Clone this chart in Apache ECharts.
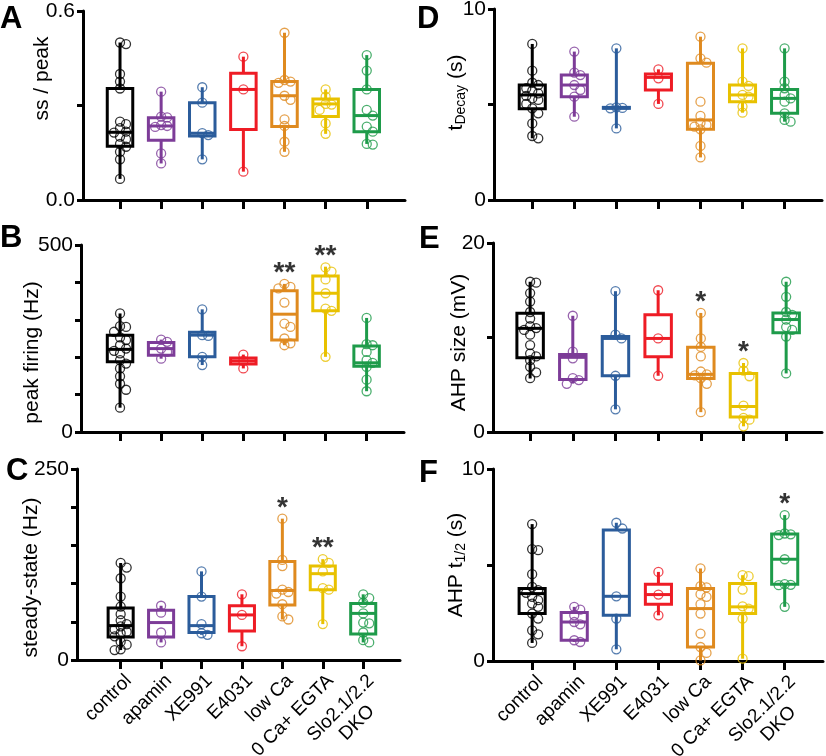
<!DOCTYPE html>
<html><head><meta charset="utf-8">
<script src="https://cdn.jsdelivr.net/npm/echarts@6/dist/echarts.min.js"></script>
<style>html,body{margin:0;padding:0;background:#fff}#c{width:826px;height:756px}</style>
</head><body><div id="c"></div>
<script>
const categories = ['control','apamin','XE991','E4031','low Ca','0 Ca+ EGTA','Slo2.1/2.2\nDKO    '];
const groupColors = ['#000000','#7D3C98','#2B5C9B','#EE1C25','#DF8A1F','#E8C100','#1E9B4A'];

// box stats per group: [min, q1, median, q3, max]
const A_box = [[0.067,0.171,0.215,0.354,0.50],[0.116,0.190,0.235,0.261,0.344],[0.129,0.203,0.212,0.309,0.358],[0.090,0.224,0.351,0.402,0.455],[0.153,0.233,0.331,0.376,0.531],[0.210,0.265,0.305,0.321,0.351],[0.178,0.217,0.268,0.351,0.460]];
const A_pts = [[0.50,0.495,0.40,0.376,0.354,0.249,0.241,0.228,0.217,0.214,0.201,0.193,0.178,0.169,0.153,0.129,0.067],[0.344,0.265,0.262,0.238,0.235,0.232,0.148,0.116],[0.358,0.309,0.212,0.206,0.129],[0.455,0.351,0.090],[0.531,0.381,0.376,0.372,0.331,0.318,0.256,0.235,0.185,0.153],[0.351,0.328,0.305,0.303,0.286,0.243,0.210],[0.460,0.411,0.351,0.286,0.268,0.233,0.217,0.178,0.176]];
const A_sig = ['','','','','','',''];

const B_box = [[65,188,221,259,317],[196,205,223,239,247],[179,201,259,267,328],[170,182,190,198,207],[232,246,315,378,396],[201,324,371,417,442],[109,176,185,230,305]];
const B_pts = [[317,283,281,268,253,246,232,223,217,210,192,183,170,149,129,113,65],[247,241,223,214,196],[328,259,257,201,179],[207,190,170],[396,388,384,346,290,281,250,237,232],[440,429,408,371,330,324,201],[305,235,232,214,192,185,174,140,109]];
const B_sig = ['','','','','**','**',''];

const C_box = [[13,30,45,68,127],[23,30,49,65,71],[33,36,45,83,116],[18,38,59,71,86],[53,72,91,129,185],[47,92,113,123,132],[23,34,61,74,86]];
const C_pts = [[127,121,107,83,70,60,52,47,44,40,37,35,31,24,20,14,13],[71,62,36,23],[116,83,47,35,33],[86,59,18],[185,131,123,92,89,87,73,57,53],[132,127,116,94,92,47],[86,81,75,61,49,48,36,26,23]];
const C_sig = ['','','','','*','**',''];

const D_box = [[3.23,4.78,5.50,6.02,8.17],[4.36,5.41,6.02,6.54,7.77],[3.75,4.80,4.82,4.85,7.94],[5.03,5.76,6.42,6.60,6.84],[2.23,3.70,4.19,7.16,8.55],[4.57,5.15,5.50,6.02,7.94],[4.10,4.54,5.32,5.79,7.94]];
const D_pts = [[8.17,6.77,6.14,6.02,5.85,5.72,5.58,5.45,5.32,5.24,5.03,4.80,4.54,4.01,3.35,3.23],[7.77,6.67,6.54,6.02,5.76,5.41,4.36],[7.94,4.85,4.82,4.80,3.75],[6.84,6.37,5.03],[8.55,7.42,7.19,5.15,4.40,4.05,3.93,3.84,3.70,2.83,2.23],[7.94,6.20,5.97,5.50,5.41,4.89,4.57],[7.94,6.20,5.85,5.50,5.32,5.15,4.54,4.19,4.10]];
const D_sig = ['','','','','','',''];

const E_box = [[5.66,7.86,10.97,12.57,15.9],[5.13,5.56,7.9,8.2,12.3],[2.4,5.95,9.9,10.1,14.9],[5.95,7.96,9.9,12.4,15.0],[2.1,5.66,6.1,8.96,12.6],[0.6,1.6,2.7,6.2,7.3],[6.2,10.5,11.9,12.6,15.9]];
const E_pts = [[15.9,15.8,14.7,13.8,12.7,12.0,11.2,11.0,10.8,10.3,9.2,8.3,8.0,7.6,6.9,6.3,5.7],[12.3,8.5,7.8,5.7,5.5,5.1],[14.9,10.3,9.9,5.95,2.4],[15.0,9.9,5.95],[12.6,9.9,9.0,8.0,6.4,6.1,6.0,5.7,5.1,2.1],[7.3,6.5,5.9,2.8,1.5,1.3,0.6],[15.9,14.3,12.7,12.4,11.9,11.1,10.8,10.1,6.2]];
const E_sig = ['','','','','*','*',''];

const F_box = [[0.94,2.47,3.51,3.77,7.13],[0.99,1.08,2.03,2.52,2.82],[0.61,2.38,3.37,6.82,7.2],[2.38,2.96,3.46,4.0,4.64],[0.03,0.73,2.73,3.77,4.82],[0.12,2.47,2.82,4.03,4.47],[2.82,4.0,5.30,6.61,7.6]];
const F_pts = [[7.13,5.83,5.77,4.52,3.86,3.69,3.55,3.34,3.17,2.99,2.82,2.47,2.21,1.6,1.39,0.94],[2.82,2.68,2.38,2.03,1.91,1.08,0.99],[7.2,6.9,3.37,2.21,0.61],[4.64,3.46,2.38],[4.82,3.9,3.83,3.48,3.34,2.96,2.47,1.43,0.73,0.42,0.03],[4.47,4.42,3.72,2.85,2.73,2.21,0.12],[7.6,6.64,6.60,6.56,5.30,4.0,3.97,3.95,2.82]];
const F_sig = ['','','','','','','*'];

const yMax = {A:0.6, B:500, C:250, D:10, E:20, F:10};
const yStep = {A:0.3, B:100, C:50, D:5, E:10, F:5};
const yDecimals = {A:1, B:0, C:0, D:0, E:0, F:0};
const yNames = {A:'ss / peak', B:'peak firing (Hz)', C:'steady-state (Hz)', D:'{a|t}{s|Decay}{a| (s)}', E:'AHP size (mV)', F:'{a|AHP t}{s|1/2}{a| (s)}'};

// layout (positions / styles)
const FONT = '"Liberation Sans", Arial, Helvetica, sans-serif';
const layout = {
  A:{left:83, top:11, width:322, height:189, xmin:-0.90, xmax:6.93, nameGap:30, namePad:[0,0,0,54], showX:false, lx:0, ly:4},
  B:{left:81, top:245, width:323, height:187, xmin:-0.95, xmax:6.91, nameGap:38, namePad:[0,28,0,0], showX:false, lx:0, ly:223},
  C:{left:77, top:469, width:323, height:191, xmin:-1.08, xmax:6.91, nameGap:35, namePad:[0,26,0,0], showX:true, lx:6, ly:456},
  D:{left:494, top:9, width:328, height:191, xmin:-0.91, xmax:6.89, nameGap:26, namePad:[0,0,0,24], showX:false, lx:417, ly:4},
  E:{left:493, top:243, width:329, height:189, xmin:-0.87, xmax:6.84, nameGap:23, namePad:[0,10,0,0], showX:false, lx:419, ly:224},
  F:{left:493, top:469, width:330, height:192, xmin:-0.93, xmax:6.91, nameGap:25, namePad:[0,0,0,0], showX:true, lx:419, ly:458}
};
const BOX_W = 0.62;
const data = {A:[A_box,A_pts,A_sig], B:[B_box,B_pts,B_sig], C:[C_box,C_pts,C_sig], D:[D_box,D_pts,D_sig], E:[E_box,E_pts,E_sig], F:[F_box,F_pts,F_sig]};
const ids = ['A','B','C','D','E','F'];
const catIdx = categories.map((c,i)=>i);

function swarm(vals, g, id) {
  const L = layout[id];
  const pxY = L.height / yMax[id], pxX = L.width / (L.xmax - L.xmin);
  const placed = [], out = [];
  const order = vals.map((v,i)=>i).sort((a,b)=>vals[b]-vals[a]);
  for (const i of order) {
    const y = vals[i]*pxY;
    let off = 0;
    for (const k of [0,1,-1,2,-2,3,-3,4,-4]) {
      const xo = k*6;
      if (placed.every(q => Math.hypot(q[0]-xo, q[1]-y) >= 6)) { off = xo; break; }
    }
    placed.push([off, y]);
    out.push({value:[g + off/pxX, vals[i]], itemStyle:{borderColor: groupColors[g]}});
  }
  return out;
}

function renderBox(params, api) {
  const g = api.value(0);
  const c = groupColors[g];
  const bot = api.coord([g, api.value(1)]);
  const q1 = api.coord([g, api.value(2)]);
  const med = api.coord([g, api.value(3)]);
  const q3 = api.coord([g, api.value(4)]);
  const top = api.coord([g, api.value(5)]);
  const hw = api.size([BOX_W, 0])[0] / 2;
  const cx = top[0];
  const ls = {stroke:c, lineWidth:3, fill:null};
  return {type:'group', children:[
    {type:'line', shape:{x1:cx, y1:q3[1], x2:cx, y2:top[1]}, style:ls},
    {type:'line', shape:{x1:cx, y1:q1[1], x2:cx, y2:bot[1]}, style:ls},
    {type:'rect', shape:{x:cx-hw, y:q3[1], width:2*hw, height:q1[1]-q3[1]}, style:{stroke:c, lineWidth:3, fill:'#fff'}},
    {type:'line', shape:{x1:cx-hw, y1:med[1], x2:cx+hw, y2:med[1]}, style:ls}
  ]};
}

const grid = [], xAxis = [], yAxis = [], series = [], graphic = [];
ids.forEach((id, i) => {
  const L = layout[id];
  const [box, pts, sig] = data[id];
  grid.push({left:L.left, top:L.top, width:L.width, height:L.height, containLabel:false, outerBoundsMode:'none'});
  xAxis.push({
    type:'value', gridIndex:i, min:L.xmin, max:L.xmax,
    axisLine:{show:true, onZero:false, lineStyle:{color:'#000', width:3}},
    axisTick:{show:true, customValues:catIdx, length:9, lineStyle:{color:'#000', width:3}},
    axisLabel:{show:L.showX, customValues:catIdx, rotate:45, margin:10, verticalAlign:'top',
      formatter:v=>categories[Math.round(v)] || '', fontSize:19, lineHeight:22, fontFamily:FONT, color:'#000'},
    splitLine:{show:false}
  });
  yAxis.push({
    type:'value', gridIndex:i, min:0, max:yMax[id], interval:yStep[id],
    axisLine:{show:true, onZero:false, lineStyle:{color:'#000', width:3}},
    axisTick:{show:true, length:6, lineStyle:{color:'#000', width:3}},
    axisLabel:{margin:8, fontSize:21, fontFamily:FONT, color:'#000',
      formatter:v=>(Math.abs(v)<1e-9 || Math.abs(v-yMax[id])<1e-9) ? v.toFixed(yDecimals[id]) : ''},
    splitLine:{show:false},
    name:yNames[id], nameLocation:'middle', nameRotate:90, nameGap:L.nameGap, nameMoveOverlap:false,
    nameTextStyle:{fontSize:21, fontFamily:FONT, color:'#000', padding:L.namePad,
      rich:{a:{fontSize:21, fontFamily:FONT, color:'#000', lineHeight:24},
            s:{fontSize:14, fontFamily:FONT, color:'#000', lineHeight:10, verticalAlign:'bottom'}}}
  });
  series.push({
    type:'custom', xAxisIndex:i, yAxisIndex:i, renderItem:renderBox, silent:true, z:2,
    encode:{x:0, y:[1,2,3,4,5]},
    data: box.map((b,g)=>[g, ...b])
  });
  series.push({
    type:'scatter', xAxisIndex:i, yAxisIndex:i, symbol:'circle', symbolSize:9, z:3, silent:true,
    itemStyle:{color:'rgba(0,0,0,0)', borderWidth:1.3},
    data: pts.flatMap((vals,g)=>swarm(vals,g,id))
  });
  const sigData = [];
  sig.forEach((s,g)=>{ if (s) sigData.push({value:[g, box[g][4]], label:{formatter:s}}); });
  if (sigData.length) series.push({
    type:'scatter', xAxisIndex:i, yAxisIndex:i, symbolSize:1, z:4, silent:true,
    itemStyle:{color:'rgba(255,255,255,0)'},
    label:{show:true, position:'top', distance:-4, fontSize:28, fontWeight:'bold', fontFamily:FONT, color:'#000'},
    data: sigData
  });
  graphic.push({type:'text', left:L.lx, top:L.ly, style:{text:id, font:'bold 31px '+FONT, fill:'#000'}});
});

const chart = echarts.init(document.getElementById('c'), null, {renderer:'canvas'});
chart.setOption({animation:false, backgroundColor:'#fff', grid, xAxis, yAxis, series, graphic});
</script></body></html>
